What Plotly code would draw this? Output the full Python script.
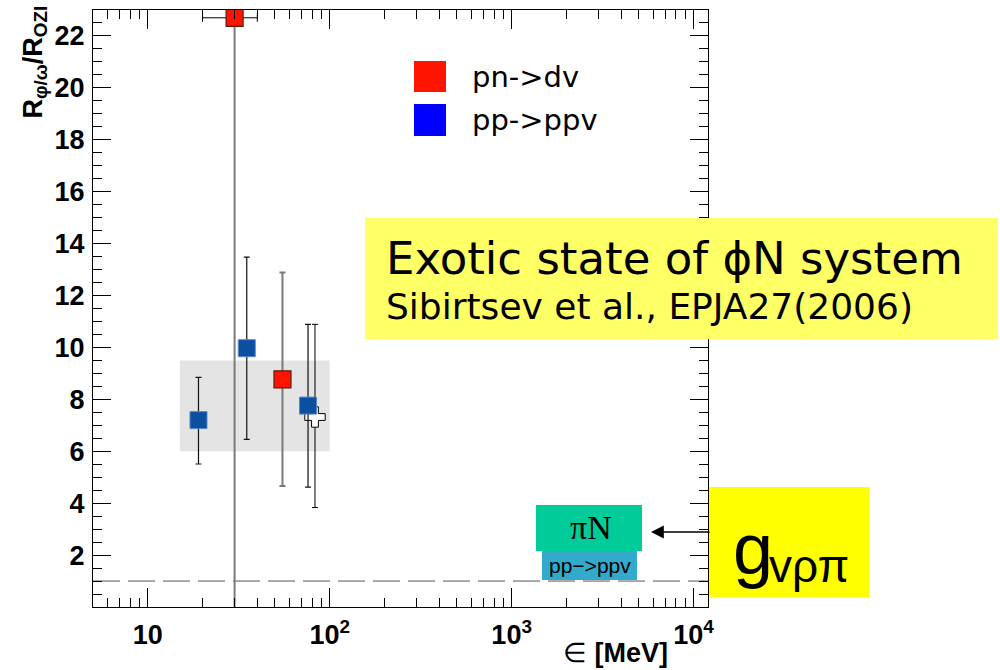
import math
import plotly.graph_objects as go

# ---- data -------------------------------------------------------------
# pp -> pp v  (energy excess in MeV, ratio, upper / lower error)
ppv_e = [19.0, 35.0, 76.0]
ppv_r = [7.20, 9.97, 7.76]
ppv_up = [1.65, 3.51, 3.13]
ppv_dn = [1.69, 3.51, 3.14]

# pn -> d v
dv_e = [30.0, 55.0]
dv_r = [22.7, 8.77]
dv_up = [30.0, 4.12]
dv_dn = [30.0, 4.11]
dv_e_lo = [10.0, 0.0]
dv_e_hi = [10.0, 0.0]

# additional open-marker measurement
alt_e = [83.0]
alt_r = [7.32]
alt_up = [3.57]
alt_dn = [3.49]

# shaded band and OZI reference level
band_e = [15.0, 100.0]
band_r = [6.0, 9.5]
ozi_level = 1.0

x_lim = [5.0, 12000.0]
y_lim = [0.0, 23.0]

x_ticks = [10, 100, 1000, 10000]
x_ticktext = ["10", "10<sup>2</sup>", "10<sup>3</sup>", "10<sup>4</sup>"]
y_ticks = [2, 4, 6, 8, 10, 12, 14, 16, 18, 20, 22]

# ---- page geometry ----------------------------------------------------
W, H = 1000, 670
ML, MR, MT, MB = 93, 292, 10, 63
PW, PH = W - ML - MR, H - MT - MB


def pxx(x):
    return (x - ML) / PW


def pxy(y):
    return (H - MB - y) / PH


SANS = "Liberation Sans"
WIDE = "DejaVu Sans"

fig = go.Figure()

# grey band
fig.add_trace(go.Scatter(
    x=[band_e[0], band_e[1], band_e[1], band_e[0], band_e[0]],
    y=[band_r[0], band_r[0], band_r[1], band_r[1], band_r[0]],
    mode="lines", fill="toself", fillcolor="#e4e4e4",
    line=dict(width=0), hoverinfo="skip", showlegend=False))

# OZI reference line
fig.add_trace(go.Scatter(
    x=x_lim, y=[ozi_level, ozi_level], mode="lines",
    line=dict(color="#555555", width=1, dash="27px,8px"),
    hoverinfo="skip", showlegend=False))

# open cross measurement
fig.add_trace(go.Scatter(
    x=alt_e, y=alt_r, mode="markers",
    marker=dict(symbol="cross", size=17, color="white",
                line=dict(color="black", width=1)),
    error_y=dict(type="data", symmetric=False, array=alt_up, arrayminus=alt_dn,
                 color="black", thickness=1, width=3),
    showlegend=False))

# pn -> dv
fig.add_trace(go.Scatter(
    x=dv_e, y=dv_r, mode="markers", name="pn->dv",
    marker=dict(symbol="square", size=17, color="#ff1400",
                line=dict(color="#5a1a10", width=1.2)),
    error_y=dict(type="data", symmetric=False, array=dv_up, arrayminus=dv_dn,
                 color="#7a7a7a", thickness=2, width=3),
    error_x=dict(type="data", symmetric=False, array=dv_e_hi, arrayminus=dv_e_lo,
                 color="black", thickness=1, width=4),
    showlegend=False))

# pp -> ppv
fig.add_trace(go.Scatter(
    x=ppv_e, y=ppv_r, mode="markers", name="pp->ppv",
    marker=dict(symbol="square", size=17, color="#0a4fa0",
                line=dict(color="#5a86c0", width=1)),
    error_y=dict(type="data", symmetric=False, array=ppv_up, arrayminus=ppv_dn,
                 color="#111111", thickness=1.2, width=3),
    showlegend=False))

shapes = []
annotations = []


def box(x0, y0, x1, y1, color):
    shapes.append(dict(type="rect", xref="paper", yref="paper",
                       x0=pxx(x0), x1=pxx(x1), y0=pxy(y1), y1=pxy(y0),
                       fillcolor=color, line=dict(width=0), layer="above"))


def label(x, y, text, size, family=SANS, xanchor="left", yanchor="middle",
          color="black", angle=0):
    annotations.append(dict(xref="paper", yref="paper", x=pxx(x), y=pxy(y),
                            text=text, showarrow=False, xanchor=xanchor,
                            yanchor=yanchor, textangle=angle,
                            font=dict(family=family, size=size, color=color)))


# legend
box(414, 61, 446, 92, "#ff1400")
box(414, 104, 446, 136, "#0000ff")
label(470, 77, "pn->dv", 29, family=WIDE)
label(470, 120, "pp->ppv", 29, family=WIDE)

# annotation panel
box(365, 218, 998, 339, "#ffff66")
label(384, 258, "Exotic state of ϕN system", 45, family=WIDE)
label(384, 306, "Sibirtsev et al., EPJA27(2006)", 36, family=WIDE)

# small boxes
box(542, 549, 637, 580, "#33aacc")
label(589.5, 565, "pp−>ppv", 21, xanchor="center")
box(536, 505, 642, 551, "#00cc99")
label(591, 527, "πN", 34, family="Liberation Serif", xanchor="center")

# coupling label
box(709, 487, 869, 597, "#ffff00")
label(731, 549, "g", 72)
label(767, 566, "vρπ", 46)

# arrow
annotations.append(dict(xref="paper", yref="paper", x=pxx(651), y=pxy(532),
                        ax=60, ay=0, showarrow=True, arrowhead=2,
                        arrowsize=1.6, arrowwidth=1.6, arrowcolor="black",
                        text=""))

# axis titles
label(670, 653, "∈ <b>[MeV]</b>", 27, xanchor="right")
label(35, 4, "<b>R<sub>φ/ω</sub>/R<sub>OZI</sub></b>", 27, xanchor="center",
      yanchor="top", angle=-90)

axis_common = dict(showline=True, linecolor="black", linewidth=1,
                   mirror="allticks", ticks="inside", tickcolor="black",
                   showgrid=False, zeroline=False,
                   tickfont=dict(family=SANS, size=27, color="black",
                                 weight="bold"))

minor_x = [v * 10 ** k for k in range(0, 4) for v in range(2, 10)
           if x_lim[0] <= v * 10 ** k <= x_lim[1]]

fig.update_xaxes(type="log", range=[math.log10(x_lim[0]), math.log10(x_lim[1])],
                 tickmode="array", tickvals=x_ticks, ticktext=x_ticktext,
                 ticklen=19, ticklabelstandoff=4,
                 minor=dict(tickmode="array", tickvals=minor_x, ticks="inside",
                            ticklen=9, tickcolor="black"),
                 **axis_common)
fig.update_yaxes(range=y_lim, tickmode="array", tickvals=y_ticks, ticklen=18,
                 ticklabelstandoff=2,
                 minor=dict(dtick=0.5, tick0=0, ticks="inside", ticklen=9,
                            tickcolor="black"),
                 **axis_common)

fig.update_layout(width=W, height=H,
                  margin=dict(l=ML, r=MR, t=MT, b=MB),
                  paper_bgcolor="white", plot_bgcolor="white",
                  shapes=shapes, annotations=annotations, showlegend=False)

fig.write_html("out.html")
